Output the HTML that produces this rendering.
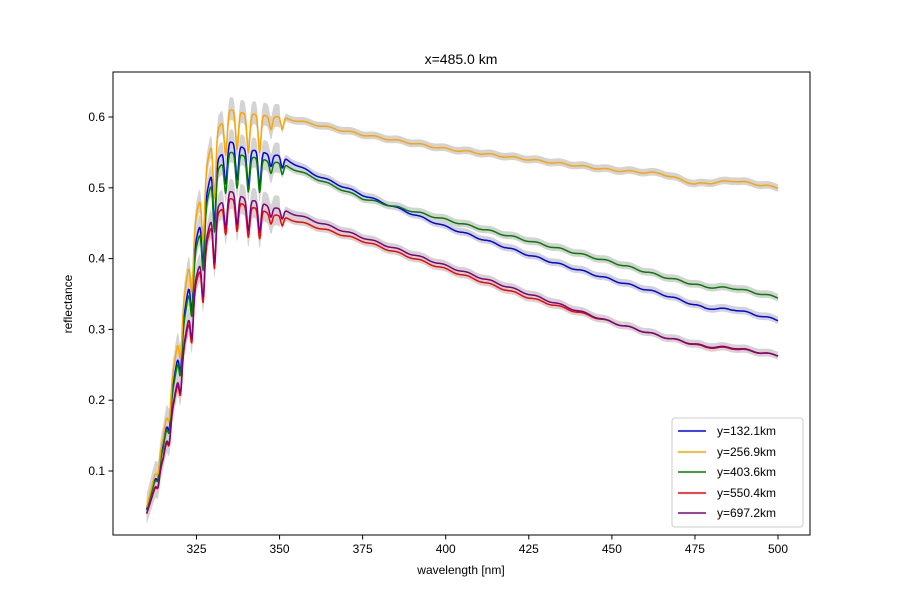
<!DOCTYPE html>
<html><head><meta charset="utf-8"><style>
body{margin:0;background:#fff;}
svg{display:block;font-family:"Liberation Sans","DejaVu Sans",sans-serif;}
</style></head><body>
<svg id="s" width="900" height="600" viewBox="0 0 900 600" xmlns="http://www.w3.org/2000/svg">
<rect width="900" height="600" fill="#fff"/>
<g id="bands"></g>
<g id="lines"></g>
<rect x="113" y="72" width="697" height="463" fill="none" stroke="#000" stroke-width="1"/>
<g id="ticks" font-size="12" fill="#000"></g>
<text x="461" y="64" font-size="14" text-anchor="middle">x=485.0 km</text>
<text x="461" y="574" font-size="12" text-anchor="middle">wavelength [nm]</text>
<text x="72" y="304" font-size="12" text-anchor="middle" transform="rotate(-90 72 304)">reflectance</text>
<g font-size="12">
<rect x="672" y="418" width="131" height="109" rx="3" fill="#fff" stroke="#ccc"/>
<line x1="678" y1="431" x2="706" y2="431" stroke="blue" stroke-width="1.5"/><text x="717" y="435">y=132.1km</text>
<line x1="678" y1="452" x2="706" y2="452" stroke="orange" stroke-width="1.5"/><text x="717" y="456">y=256.9km</text>
<line x1="678" y1="472" x2="706" y2="472" stroke="green" stroke-width="1.5"/><text x="717" y="476">y=403.6km</text>
<line x1="678" y1="493" x2="706" y2="493" stroke="red" stroke-width="1.5"/><text x="717" y="497">y=550.4km</text>
<line x1="678" y1="513" x2="706" y2="513" stroke="purple" stroke-width="1.5"/><text x="717" y="517">y=697.2km</text>
</g>
</svg>
<script>
var X=function(l){return 196.5+(l-325)*3.323;};
var Y=function(v){return 471-(v-0.1)*708;};
var NS="http://www.w3.org/2000/svg";
function el(p,t,a){var e=document.createElementNS(NS,t);for(var k in a)e.setAttribute(k,a[k]);p.appendChild(e);return e;}
var tk=document.getElementById('ticks');
[325,350,375,400,425,450,475,500].forEach(function(l){var x=X(l);el(tk,'line',{x1:x,y1:535,x2:x,y2:539.5,stroke:'#000'});var t=el(tk,'text',{x:x,y:553,'text-anchor':'middle'});t.textContent=l;});
[0.1,0.2,0.3,0.4,0.5,0.6].forEach(function(v){var y=Y(v);el(tk,'line',{x1:108.5,y1:y,x2:113,y2:y,stroke:'#000'});var t=el(tk,'text',{x:105,y:y+4,'text-anchor':'end'});t.textContent=v.toFixed(1);});
function interp(pts,l){for(var i=0;i<pts.length-1;i++){if(l<=pts[i+1][0]){var a=pts[i],b=pts[i+1];return a[1]+(b[1]-a[1])*(l-a[0])/(b[0]-a[0]);}}return pts[pts.length-1][1];}
var g=[[310,0.08],[315,0.24],[320,0.5],[325,0.76],[330,0.94],[335,1]];
var S=[
['blue',[[335,0.565],[340,0.555],[350,0.545],[360,0.52],[375,0.49],[400,0.445],[425,0.405],[450,0.37],[465,0.35],[478,0.33],[487,0.328],[500,0.313]]],
['green',[[335,0.55],[340,0.545],[350,0.535],[360,0.515],[375,0.485],[400,0.455],[425,0.425],[450,0.395],[465,0.375],[478,0.36],[487,0.358],[500,0.345]]],
['red',[[335,0.485],[340,0.475],[350,0.46],[375,0.425],[400,0.385],[425,0.345],[450,0.31],[465,0.29],[478,0.275],[487,0.273],[500,0.263]]],
['purple',[[335,0.495],[340,0.485],[350,0.47],[375,0.43],[400,0.39],[425,0.35],[450,0.31],[465,0.29],[478,0.276],[487,0.274],[500,0.263]]],
['orange',[[335,0.61],[340,0.605],[350,0.6],[360,0.59],[375,0.575],[400,0.555],[425,0.54],[450,0.525],[465,0.52],[475,0.505],[487,0.51],[500,0.5]]]
];
var dips=[];for(var c=313.4;c<352;c+=3.4)dips.push(c);
function val(pts,l){var v;if(l<335){v=pts[0][1]*interp(g,l);}else v=interp(pts,l);
var d=0;dips.forEach(function(c){var dep=c<331?0.16:(c<345?0.09:0.03);d+=dep*Math.exp(-Math.pow((l-c)/0.6,2));});
v*=(1-Math.min(d,0.4));v+=0.0012*Math.sin(l*0.9);return v;}
var B=document.getElementById('bands'),L=document.getElementById('lines');
S.forEach(function(s){var up=[],dn=[],ln=[];for(var l=310;l<=500.01;l+=0.2){var v=val(s[1],l);var w=l<350?0.018:0.006;ln.push(X(l).toFixed(1)+','+Y(v).toFixed(1));up.push(X(l).toFixed(1)+','+Y(v+w).toFixed(1));dn.unshift(X(l).toFixed(1)+','+Y(v-w*0.8).toFixed(1));}
el(B,'polygon',{points:up.concat(dn).join(' '),fill:'#d3d3d3'});
s.push(ln);});
S.forEach(function(s){el(L,'polyline',{points:s[2].join(' '),fill:'none',stroke:s[0],'stroke-width':1.5,'stroke-linejoin':'round'});});
</script>
</body></html>
